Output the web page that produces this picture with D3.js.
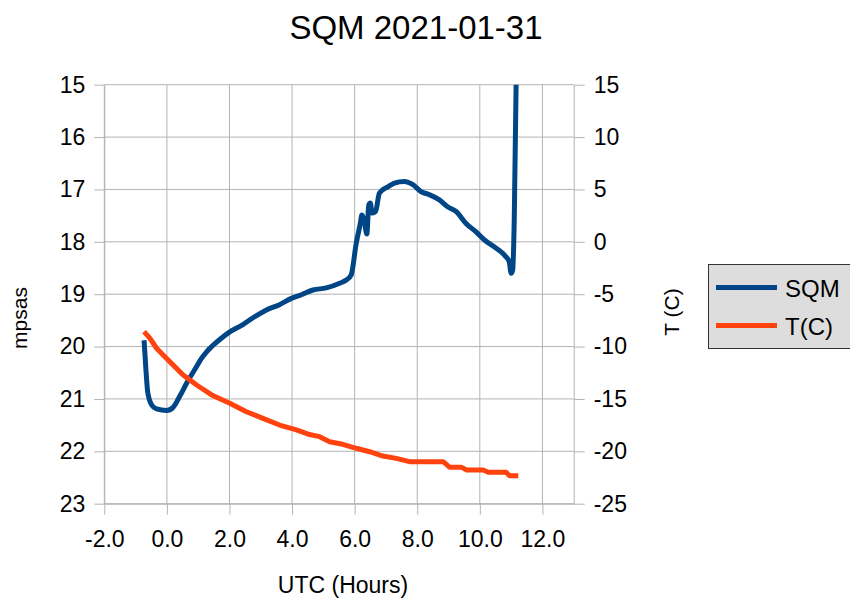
<!DOCTYPE html>
<html>
<head>
<meta charset="utf-8">
<script src="https://cdn.jsdelivr.net/npm/d3@7"></script>
<style>
    body { margin: 0; background: #fff; }
    svg { font-family: "Liberation Sans", Arial, sans-serif; }
</style>
</head>
<body>
<div id="chart"></div>
<script>
// SQM readings (hours UTC, mag/arcsec^2)
const sqmHours = [-0.73, -0.70, -0.67, -0.61, -0.49, -0.33, -0.01, 0.20, 0.41, 0.63, 0.95, 1.10, 1.27, 1.45, 1.70, 2.01, 2.43, 2.65,
    3.18, 3.60, 3.98, 4.30, 4.67, 5.09, 5.52, 5.73, 5.89, 6.05, 6.18, 6.23, 6.32, 6.39, 6.45, 6.50, 6.56, 6.67, 6.79,
    7.06, 7.27, 7.59, 7.86, 8.12, 8.39, 8.71, 8.97, 9.24, 9.56, 9.88, 10.14, 10.52, 10.84, 10.94, 11.00, 11.05, 11.10, 11.16];
const sqmValues = [19.88, 20.15, 20.44, 20.88, 21.11, 21.19, 21.22, 21.16, 20.95, 20.70, 20.38, 20.23, 20.10, 19.99, 19.86, 19.72, 19.58, 19.49,
    19.30, 19.20, 19.08, 19.01, 18.92, 18.88, 18.79, 18.73, 18.63, 18.03, 17.65, 17.49, 17.65, 17.85, 17.30, 17.26, 17.45, 17.42, 17.07,
    16.95, 16.88, 16.85, 16.91, 17.04, 17.10, 17.20, 17.33, 17.42, 17.65, 17.81, 17.96, 18.12, 18.29, 18.38, 18.60, 18.54, 17.58, 15.0];

// Temperature readings (hours UTC, deg C)
const tempHours = [-0.73, -0.54, -0.33, -0.12, 0.20, 0.52, 0.95, 1.48, 2.01, 2.54, 3.07, 3.60, 4.14, 4.56, 4.88, 5.20,
    5.62, 6.05, 6.48, 6.90, 7.33, 7.75, 8.39, 8.83, 9.04, 9.42, 9.58, 10.11, 10.27, 10.84, 10.95, 11.23];
const tempValues = [-8.58, -9.21, -10.16, -10.80, -11.76, -12.71, -13.67, -14.70, -15.42, -16.22, -16.85, -17.49, -17.96, -18.40, -18.60, -19.08,
    -19.33, -19.71, -20.04, -20.45, -20.67, -20.99, -20.99, -20.99, -21.53, -21.53, -21.78, -21.78, -22.00, -22.00, -22.33, -22.33];

const xTicks = [-2, 0, 2, 4, 6, 8, 10, 12];
const sqmTicks = [15, 16, 17, 18, 19, 20, 21, 22, 23];
const tempTicks = [15, 10, 5, 0, -5, -10, -15, -20, -25];

const seriesNames = ["SQM", "T(C)"];
const seriesColors = ["#004586", "#ff420e"];

document.addEventListener('DOMContentLoaded', () => {
    const W = 850, H = 599;
    const plot = { left: 104.3, right: 573.7, top: 84.7, bottom: 503.7 };

    const svg = d3.select("#chart")
        .append("svg")
        .attr("width", W)
        .attr("height", H);

    const x = d3.scaleLinear().domain([-2, 13]).range([plot.left, plot.right]);
    const yL = d3.scaleLinear().domain([15, 23]).range([plot.top, plot.bottom]);
    const yR = d3.scaleLinear().domain([15, -25]).range([plot.top, plot.bottom]);

    // grid lines
    svg.append("g")
        .selectAll("line")
        .data(xTicks)
        .join("line")
        .attr("x1", d => x(d)).attr("x2", d => x(d))
        .attr("y1", plot.top).attr("y2", plot.bottom)
        .attr("stroke", "#b3b3b3").attr("stroke-width", 1);
    svg.append("g")
        .selectAll("line")
        .data(sqmTicks)
        .join("line")
        .attr("x1", plot.left).attr("x2", plot.right)
        .attr("y1", d => yL(d)).attr("y2", d => yL(d))
        .attr("stroke", "#b3b3b3").attr("stroke-width", 1);

    // axes
    const styleAxis = (g) => {
        g.selectAll(".domain").attr("stroke", "#b3b3b3");
        g.selectAll(".tick line").attr("stroke", "#b3b3b3");
        g.selectAll(".tick text").attr("fill", "#000").style("font-size", "23px");
    };
    // plain hyphen for negatives, as in the original
    const hyphen = s => s.replace("\u2212", "-");

    svg.append("g")
        .attr("transform", `translate(${plot.left},0)`)
        .call(d3.axisLeft(yL).tickValues(sqmTicks).tickSize(10).tickSizeOuter(0).tickPadding(9))
        .call(styleAxis);

    svg.append("g")
        .attr("transform", `translate(${plot.right},0)`)
        .call(d3.axisRight(yR).tickValues(tempTicks).tickFormat(d => hyphen(String(d)))
            .tickSize(11).tickSizeOuter(0).tickPadding(9))
        .call(styleAxis);

    svg.append("g")
        .attr("transform", `translate(0,${plot.bottom})`)
        .call(d3.axisBottom(x).tickValues(xTicks).tickFormat(d => hyphen(d3.format(".1f")(d)))
            .tickSize(11).tickSizeOuter(0).tickPadding(16))
        .call(styleAxis);

    // lines
    const sqmLine = d3.line()
        .x((d, i) => x(sqmHours[i]))
        .y(d => yL(d))
        .curve(d3.curveMonotoneX);
    svg.append("path")
        .datum(sqmValues)
        .attr("d", sqmLine)
        .attr("fill", "none")
        .attr("stroke", seriesColors[0])
        .attr("stroke-width", 5)
        .attr("stroke-linejoin", "round");

    const tempLine = d3.line()
        .x((d, i) => x(tempHours[i]))
        .y(d => yR(d));
    svg.append("path")
        .datum(tempValues)
        .attr("d", tempLine)
        .attr("fill", "none")
        .attr("stroke", seriesColors[1])
        .attr("stroke-width", 5)
        .attr("stroke-linejoin", "round");

    // titles
    svg.append("text")
        .attr("x", 416).attr("y", 39)
        .attr("text-anchor", "middle")
        .style("font-size", "33px")
        .text("SQM 2021-01-31");

    svg.append("text")
        .attr("x", 343).attr("y", 593)
        .attr("text-anchor", "middle")
        .style("font-size", "23px")
        .text("UTC (Hours)");

    svg.append("text")
        .attr("transform", "translate(27,318) rotate(-90)")
        .attr("text-anchor", "middle")
        .style("font-size", "21px")
        .text("mpsas");

    svg.append("text")
        .attr("transform", "translate(679,312) rotate(-90)")
        .attr("text-anchor", "middle")
        .style("font-size", "21px")
        .text("T (C)");

    // legend
    const legend = svg.append("g").attr("transform", "translate(708,264)");
    legend.append("rect")
        .attr("x", 0.5).attr("y", 0.5)
        .attr("width", 160).attr("height", 84)
        .attr("fill", "#dddddd")
        .attr("stroke", "#333")
        .attr("stroke-width", 1);
    seriesNames.forEach((name, i) => {
        const cy = 23.5 + i * 38;
        legend.append("line")
            .attr("x1", 8).attr("x2", 69)
            .attr("y1", cy).attr("y2", cy)
            .attr("stroke", seriesColors[i])
            .attr("stroke-width", 5);
        legend.append("text")
            .attr("x", 77).attr("y", cy + 9)
            .style("font-size", "24px")
            .text(name);
    });
});
</script>
</body>
</html>
